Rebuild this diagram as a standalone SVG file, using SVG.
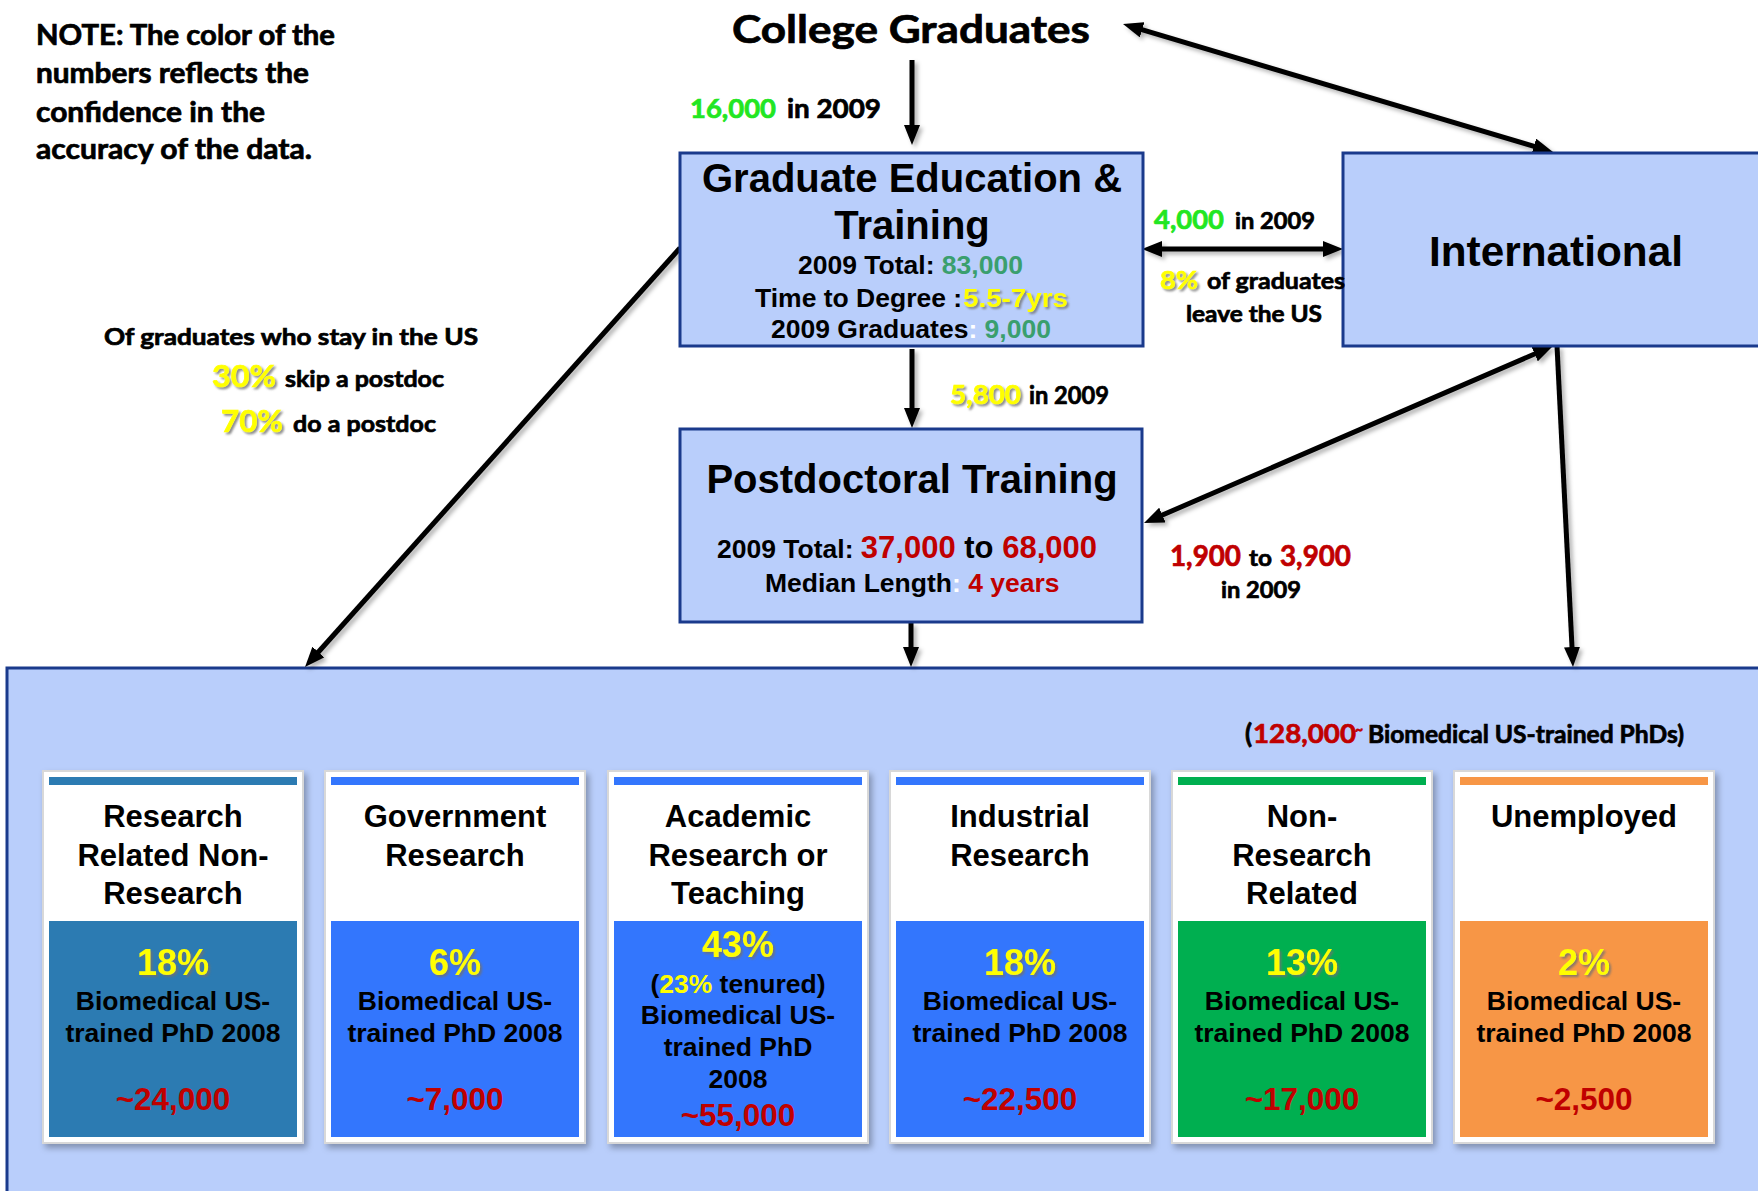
<svg xmlns="http://www.w3.org/2000/svg" width="1758" height="1191" viewBox="0 0 1758 1191">
<defs>
<marker id="ah" viewBox="0 0 20 16" markerUnits="userSpaceOnUse" markerWidth="20" markerHeight="16" refX="10" refY="8" orient="auto-start-reverse">
<path d="M0,0 L20,8 L0,16 z" fill="#000"/>
</marker>
<filter id="lsh" x="-10%" y="-10%" width="120%" height="120%">
<feDropShadow dx="3" dy="3" stdDeviation="2" flood-color="#000" flood-opacity="0.3"/>
</filter>
<filter id="ysh" x="-20%" y="-30%" width="140%" height="160%">
<feDropShadow dx="2" dy="2" stdDeviation="1" flood-color="#707070" flood-opacity="0.8"/>
</filter>
<filter id="csh" x="-5%" y="-5%" width="112%" height="112%">
<feDropShadow dx="3" dy="4" stdDeviation="3" flood-color="#000" flood-opacity="0.3"/>
</filter>
<style>
.box{fill:#B9CEFB;stroke:#1A3A8C;stroke-width:3}
.cal{font-family:Lato,"Liberation Sans",sans-serif;font-weight:bold;fill:#000;stroke:#000;stroke-width:0.7}
.ari{font-family:"Liberation Sans",Arial,sans-serif;font-weight:bold;fill:#000;stroke-width:0}
.yel{fill:#FFFF00;stroke:#FFFF00;filter:url(#ysh)}
.grn{fill:#22E622;stroke:#22E622}
.sea{fill:#3A9F6E}
.red{fill:#C00000;stroke:#C00000}
.wht{fill:#FFFFFF}
.mid{text-anchor:middle}
.con{stroke:#000;stroke-width:5;fill:none}
.card{fill:#FFFFFF;stroke:#D8D8D8;stroke-width:2;filter:url(#csh)}
.ttl{font-size:31px}
.pct{font-size:36px}
.bio{font-size:26.5px}
.num{font-size:31.5px}
</style>
</defs>

<rect x="0" y="0" width="1758" height="1191" fill="#FFFFFF"/>

<g id="note">
<text class="cal" x="36" y="45" font-size="28" textLength="299" lengthAdjust="spacingAndGlyphs">NOTE: The color of the</text>
<text class="cal" x="36" y="83" font-size="28" textLength="273" lengthAdjust="spacingAndGlyphs">numbers reflects the</text>
<text class="cal" x="36" y="122" font-size="28" textLength="229" lengthAdjust="spacingAndGlyphs">confidence in the</text>
<text class="cal" x="36" y="159" font-size="28" textLength="276" lengthAdjust="spacingAndGlyphs">accuracy of the data.</text>
</g>

<g id="college-graduates">
<text class="cal" x="732" y="43" font-size="39" textLength="358" lengthAdjust="spacingAndGlyphs">College Graduates</text>
</g>

<g id="bottom-panel">
<rect class="box" x="7" y="668" width="1770" height="540"/>
<text class="cal" x="1245" y="743" font-size="26">(</text>
<text class="cal red" x="1253" y="743" font-size="27" textLength="103" lengthAdjust="spacingAndGlyphs">128,000</text>
<text class="cal red" x="1355" y="734" font-size="14">~</text>
<text class="cal" x="1368" y="743" font-size="24" textLength="316" lengthAdjust="spacingAndGlyphs">Biomedical US-trained PhDs)</text>
</g>

<g id="connectors" filter="url(#lsh)">
<line class="con" x1="912" y1="60" x2="912" y2="135" marker-end="url(#ah)"/>
<line class="con" x1="912" y1="349" x2="912" y2="418" marker-end="url(#ah)"/>
<line class="con" x1="911" y1="623" x2="911" y2="657" marker-end="url(#ah)"/>
<line class="con" x1="680" y1="248" x2="311.7" y2="659.5" marker-end="url(#ah)"/>
<line class="con" x1="1152" y1="249" x2="1333" y2="249" marker-start="url(#ah)" marker-end="url(#ah)"/>
<line class="con" x1="1132.6" y1="26.9" x2="1543.4" y2="149.1" marker-start="url(#ah)" marker-end="url(#ah)"/>
<line class="con" x1="1543.8" y1="350" x2="1153.2" y2="519" marker-start="url(#ah)" marker-end="url(#ah)"/>
<line class="con" x1="1557" y1="346" x2="1572.5" y2="657" marker-end="url(#ah)"/>
</g>

<g id="graduate-education">
<rect class="box" x="680" y="153" width="463" height="193"/>
<text class="ari mid" x="912" y="192" font-size="40">Graduate Education &amp;</text>
<text class="ari mid" x="912" y="239" font-size="40">Training</text>
<text class="ari" x="798" y="274" font-size="26.5">2009 Total: <tspan class="sea">83,000</tspan></text>
<text class="ari" x="755" y="307" font-size="26.5">Time to Degree :</text>
<text class="ari yel" x="963" y="307" font-size="26.5" textLength="105" lengthAdjust="spacingAndGlyphs">5.5-7yrs</text>
<text class="ari" x="771" y="338" font-size="26.5">2009 Graduates<tspan class="wht">:</tspan> <tspan class="sea">9,000</tspan></text>
</g>

<g id="postdoctoral-training">
<rect class="box" x="680" y="429" width="462" height="193"/>
<text class="ari mid" x="912" y="493" font-size="40">Postdoctoral Training</text>
<text class="ari" x="717" y="558" font-size="26.5">2009 Total: <tspan class="red" font-size="31">37,000</tspan><tspan font-size="31"> to </tspan><tspan class="red" font-size="31">68,000</tspan></text>
<text class="ari" x="765" y="592" font-size="26.5">Median Length<tspan class="wht">:</tspan> <tspan class="red">4 years</tspan></text>
</g>

<g id="international">
<rect class="box" x="1343" y="153" width="440" height="193"/>
<text class="ari" x="1429" y="266" font-size="42" textLength="254" lengthAdjust="spacingAndGlyphs">International</text>
</g>

<g id="labels">
<text class="cal grn" x="690" y="118" font-size="26" textLength="86" lengthAdjust="spacingAndGlyphs">16,000</text>
<text class="cal" x="787" y="118" font-size="26" textLength="94" lengthAdjust="spacingAndGlyphs">in 2009</text>

<text class="cal yel" x="950" y="404" font-size="26" textLength="71" lengthAdjust="spacingAndGlyphs">5,800</text>
<text class="cal" x="1029" y="404" font-size="24" textLength="80" lengthAdjust="spacingAndGlyphs">in 2009</text>

<text class="cal grn" x="1154" y="229" font-size="27" textLength="70" lengthAdjust="spacingAndGlyphs">4,000</text>
<text class="cal" x="1235" y="229" font-size="23" textLength="80" lengthAdjust="spacingAndGlyphs">in 2009</text>
<text class="cal yel" x="1160" y="289" font-size="25" textLength="38" lengthAdjust="spacingAndGlyphs">8%</text>
<text class="cal" x="1207" y="289" font-size="23" textLength="138" lengthAdjust="spacingAndGlyphs">of graduates</text>
<text class="cal" x="1186" y="322" font-size="23" textLength="136" lengthAdjust="spacingAndGlyphs">leave the US</text>

<text class="cal" x="104" y="345" font-size="23" textLength="374" lengthAdjust="spacingAndGlyphs">Of graduates who stay in the US</text>
<text class="cal yel" x="212" y="387" font-size="31" textLength="64" lengthAdjust="spacingAndGlyphs">30%</text>
<text class="cal" x="285" y="387" font-size="23" textLength="159" lengthAdjust="spacingAndGlyphs">skip a postdoc</text>
<text class="cal yel" x="221" y="432" font-size="31" textLength="62" lengthAdjust="spacingAndGlyphs">70%</text>
<text class="cal" x="293" y="432" font-size="23" textLength="143" lengthAdjust="spacingAndGlyphs">do a postdoc</text>

<text class="cal red" x="1170" y="566" font-size="28" textLength="71" lengthAdjust="spacingAndGlyphs">1,900</text>
<text class="cal" x="1249" y="566" font-size="23" textLength="23" lengthAdjust="spacingAndGlyphs">to</text>
<text class="cal red" x="1280" y="566" font-size="28" textLength="71" lengthAdjust="spacingAndGlyphs">3,900</text>
<text class="cal" x="1221" y="598" font-size="23" textLength="80" lengthAdjust="spacingAndGlyphs">in 2009</text>
</g>

<g id="card-research-related">
<rect class="card" x="43" y="771" width="260" height="372"/>
<rect x="49" y="777" width="248" height="8" fill="#2C7BB2"/>
<rect x="49" y="921" width="248" height="216" fill="#2C7BB2"/>
<text class="ari ttl mid" x="173" y="827">Research</text>
<text class="ari ttl mid" x="173" y="866">Related Non-</text>
<text class="ari ttl mid" x="173" y="904">Research</text>
<text class="ari pct mid yel" x="173" y="975">18%</text>
<text class="ari bio mid" x="173" y="1010">Biomedical US-</text>
<text class="ari bio mid" x="173" y="1042">trained PhD 2008</text>
<text class="ari num mid red" x="173" y="1110">~24,000</text>
</g>

<g id="card-government">
<rect class="card" x="325" y="771" width="260" height="372"/>
<rect x="331" y="777" width="248" height="8" fill="#3376FD"/>
<rect x="331" y="921" width="248" height="216" fill="#3376FD"/>
<text class="ari ttl mid" x="455" y="827">Government</text>
<text class="ari ttl mid" x="455" y="866">Research</text>
<text class="ari pct mid yel" x="455" y="975">6%</text>
<text class="ari bio mid" x="455" y="1010">Biomedical US-</text>
<text class="ari bio mid" x="455" y="1042">trained PhD 2008</text>
<text class="ari num mid red" x="455" y="1110">~7,000</text>
</g>

<g id="card-academic">
<rect class="card" x="608" y="771" width="260" height="372"/>
<rect x="614" y="777" width="248" height="8" fill="#3376FD"/>
<rect x="614" y="921" width="248" height="216" fill="#3376FD"/>
<text class="ari ttl mid" x="738" y="827">Academic</text>
<text class="ari ttl mid" x="738" y="866">Research or</text>
<text class="ari ttl mid" x="738" y="904">Teaching</text>
<text class="ari pct mid yel" x="738" y="957" font-size="34">43%</text>
<text class="ari bio mid" x="738" y="993">(<tspan fill="#FFFF00">23%</tspan> tenured)</text>
<text class="ari bio mid" x="738" y="1024">Biomedical US-</text>
<text class="ari bio mid" x="738" y="1056">trained PhD</text>
<text class="ari bio mid" x="738" y="1088">2008</text>
<text class="ari num mid red" x="738" y="1126">~55,000</text>
</g>

<g id="card-industrial">
<rect class="card" x="890" y="771" width="260" height="372"/>
<rect x="896" y="777" width="248" height="8" fill="#3376FD"/>
<rect x="896" y="921" width="248" height="216" fill="#3376FD"/>
<text class="ari ttl mid" x="1020" y="827">Industrial</text>
<text class="ari ttl mid" x="1020" y="866">Research</text>
<text class="ari pct mid yel" x="1020" y="975">18%</text>
<text class="ari bio mid" x="1020" y="1010">Biomedical US-</text>
<text class="ari bio mid" x="1020" y="1042">trained PhD 2008</text>
<text class="ari num mid red" x="1020" y="1110">~22,500</text>
</g>

<g id="card-non-research">
<rect class="card" x="1172" y="771" width="260" height="372"/>
<rect x="1178" y="777" width="248" height="8" fill="#00AF50"/>
<rect x="1178" y="921" width="248" height="216" fill="#00AF50"/>
<text class="ari ttl mid" x="1302" y="827">Non-</text>
<text class="ari ttl mid" x="1302" y="866">Research</text>
<text class="ari ttl mid" x="1302" y="904">Related</text>
<text class="ari pct mid yel" x="1302" y="975">13%</text>
<text class="ari bio mid" x="1302" y="1010">Biomedical US-</text>
<text class="ari bio mid" x="1302" y="1042">trained PhD 2008</text>
<text class="ari num mid red" x="1302" y="1110">~17,000</text>
</g>

<g id="card-unemployed">
<rect class="card" x="1454" y="771" width="260" height="372"/>
<rect x="1460" y="777" width="248" height="8" fill="#F79646"/>
<rect x="1460" y="921" width="248" height="216" fill="#F79646"/>
<text class="ari ttl mid" x="1584" y="827">Unemployed</text>
<text class="ari pct mid yel" x="1584" y="975">2%</text>
<text class="ari bio mid" x="1584" y="1010">Biomedical US-</text>
<text class="ari bio mid" x="1584" y="1042">trained PhD 2008</text>
<text class="ari num mid red" x="1584" y="1110">~2,500</text>
</g>
</svg>
